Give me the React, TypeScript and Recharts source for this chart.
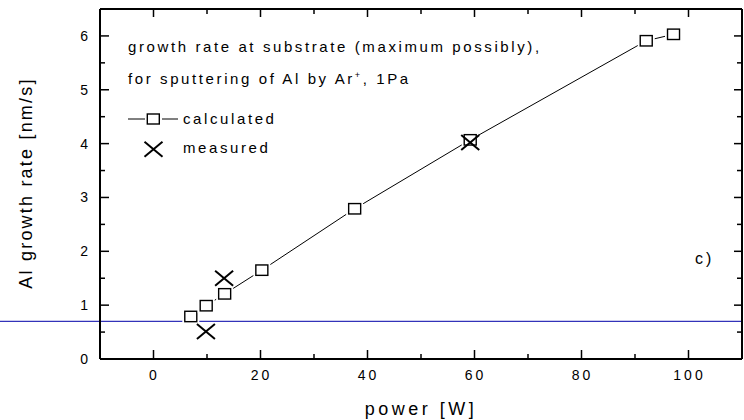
import React from 'react';
import { ComposedChart, Line, XAxis, YAxis, ReferenceLine, Customized } from 'recharts';

const calcPower = [6.97, 9.85, 13.3, 20.25, 37.6, 59.2, 92.1, 97.2];
const calcRate = [0.79, 0.99, 1.21, 1.65, 2.79, 4.07, 5.91, 6.03];
const measPower = [9.8, 13.2, 59.2];
const measRate = [0.51, 1.5, 4.02];
const xTicks = [0, 10, 20, 30, 40, 50, 60, 70, 80, 90, 100];
const yTicks = [0, 0.5, 1, 1.5, 2, 2.5, 3, 3.5, 4, 4.5, 5, 5.5, 6];
const xDomain = [-10, 110];
const yDomain = [0, 6.5];
const refRate = 0.7;

const calcData = calcPower.map((x, i) => ({ x, y: calcRate[i] }));
const measData = measPower.map((x, i) => ({ x, y: measRate[i] }));

const FONT = "'Liberation Sans', Arial, Helvetica, sans-serif";

const BottomTick = (props: any) => {
  const { x, y, payload } = props;
  const major = payload.value % 20 === 0;
  return (
    <g>
      <line x1={x} x2={x} y1={y} y2={y - (major ? 9 : 5)} stroke="#000" strokeWidth={1.5} />
      {major && (
        <text x={x + 1} y={y + 21} textAnchor="middle" fontSize={14} letterSpacing={3} fill="#000" fontFamily={FONT}>
          {payload.value}
        </text>
      )}
    </g>
  );
};

const TopTick = (props: any) => {
  const { x, y, payload } = props;
  const major = payload.value % 20 === 0;
  return <line x1={x} x2={x} y1={y} y2={y + (major ? 8 : 5)} stroke="#000" strokeWidth={1.5} />;
};

const LeftTick = (props: any) => {
  const { x, y, payload } = props;
  const major = Number.isInteger(payload.value);
  return (
    <g>
      <line x1={x} x2={x + (major ? 9 : 5)} y1={y} y2={y} stroke="#000" strokeWidth={1.5} />
      {major && (
        <text x={x - 12} y={y + 5} textAnchor="end" fontSize={14} fill="#000" fontFamily={FONT}>
          {payload.value}
        </text>
      )}
    </g>
  );
};

const RightTick = (props: any) => {
  const { x, y, payload } = props;
  const major = Number.isInteger(payload.value);
  return <line x1={x} x2={x - (major ? 8 : 5)} y1={y} y2={y} stroke="#000" strokeWidth={1.5} />;
};

const SquareDot = (props: any) => {
  const { cx, cy } = props;
  if (cx == null || cy == null) return null;
  return (
    <g>
      <rect x={cx - 8.5} y={cy - 7.5} width={17} height={15} fill="#fff" stroke="none" />
      <rect x={cx - 6} y={cy - 5.2} width={12} height={10.4} fill="#fff" stroke="#000" strokeWidth={1.4} />
    </g>
  );
};

const CrossDot = (props: any) => {
  const { cx, cy } = props;
  if (cx == null || cy == null) return null;
  return (
    <g stroke="#000" strokeWidth={2}>
      <line x1={cx - 9} y1={cy - 7.5} x2={cx + 9} y2={cy + 7.5} />
      <line x1={cx - 9} y1={cy + 7.5} x2={cx + 9} y2={cy - 7.5} />
    </g>
  );
};

const Annotations = () => {
  const t = { fontFamily: FONT, fontSize: 15, letterSpacing: 2.6, fill: '#000' } as any;
  return (
    <g>
      <text x={128} y={52} {...t}>growth rate at substrate (maximum possibly),</text>
      <text x={128} y={84} {...t}>
        for sputtering of Al by Ar<tspan fontSize={9} dy={-6}>+</tspan><tspan dy={6}>, 1Pa</tspan>
      </text>
      <line x1={128} x2={178} y1={119} y2={119} stroke="#000" strokeWidth={1} />
      <rect x={145} y={111.5} width={17} height={15} fill="#fff" />
      <rect x={147.3} y={114} width={12} height={10} fill="#fff" stroke="#000" strokeWidth={1.4} />
      <text x={183} y={124} {...t}>calculated</text>
      <g stroke="#000" strokeWidth={2}>
        <line x1={144.5} y1={141.7} x2={162.5} y2={156.7} />
        <line x1={144.5} y1={156.7} x2={162.5} y2={141.7} />
      </g>
      <text x={183} y={153} {...t}>measured</text>
      <text x={695} y={264} fontFamily={FONT} fontSize={16} letterSpacing={3} fill="#000">c)</text>
      <text x={421} y={415} textAnchor="middle" fontFamily={FONT} fontSize={18} letterSpacing={3.5} fill="#000">power [W]</text>
      <text
        x={32}
        y={183}
        transform="rotate(-90 32 183)"
        textAnchor="middle"
        fontFamily={FONT}
        fontSize={18}
        letterSpacing={2.2}
        fill="#000"
      >
        Al growth rate [nm/s]
      </text>
    </g>
  );
};

export default function App() {
  return (
    <div style={{ position: 'absolute', left: 0, top: 0, width: 744, height: 420, background: '#fff' }}>
      <ComposedChart
        width={744}
        height={420}
        margin={{ top: 4, right: 1, bottom: 31, left: 60 }}
        style={{ fontFamily: FONT }}
      >
        <XAxis
          xAxisId="b"
          dataKey="x"
          type="number"
          domain={xDomain}
          ticks={xTicks}
          allowDataOverflow
          orientation="bottom"
          height={30}
          tickSize={0}
          tickMargin={0}
          tickLine={false}
          axisLine={{ stroke: '#000', strokeWidth: 2 }}
          tick={<BottomTick />}
          interval={0}
        />
        <XAxis
          xAxisId="t"
          dataKey="x"
          type="number"
          domain={xDomain}
          ticks={xTicks}
          allowDataOverflow
          orientation="top"
          height={5}
          tickSize={0}
          tickMargin={0}
          tickLine={false}
          axisLine={{ stroke: '#000', strokeWidth: 2 }}
          tick={<TopTick />}
          interval={0}
        />
        <YAxis
          yAxisId="l"
          type="number"
          domain={yDomain}
          ticks={yTicks}
          allowDataOverflow
          orientation="left"
          width={40}
          tickSize={0}
          tickMargin={0}
          tickLine={false}
          axisLine={{ stroke: '#000', strokeWidth: 2 }}
          tick={<LeftTick />}
          interval={0}
        />
        <YAxis
          yAxisId="r"
          type="number"
          domain={yDomain}
          ticks={yTicks}
          allowDataOverflow
          orientation="right"
          width={1}
          tickSize={0}
          tickMargin={0}
          tickLine={false}
          axisLine={{ stroke: '#000', strokeWidth: 2 }}
          tick={<RightTick />}
          interval={0}
        />
        <ReferenceLine
          xAxisId="b"
          yAxisId="l"
          segment={[{ x: -40, y: refRate }, { x: 110, y: refRate }]}
          stroke="#0000a8"
          strokeWidth={1}
          ifOverflow="visible"
        />
        <Line
          xAxisId="b"
          yAxisId="l"
          data={calcData}
          dataKey="y"
          stroke="#000"
          strokeWidth={1}
          dot={<SquareDot />}
          activeDot={false}
          isAnimationActive={false}
        />
        <Line
          xAxisId="b"
          yAxisId="l"
          data={measData}
          dataKey="y"
          stroke="none"
          dot={<CrossDot />}
          activeDot={false}
          isAnimationActive={false}
        />
        <Line
          xAxisId="t"
          yAxisId="r"
          data={calcData}
          dataKey="y"
          stroke="none"
          dot={false}
          activeDot={false}
          isAnimationActive={false}
        />
        <Customized component={<Annotations />} />
      </ComposedChart>
    </div>
  );
}
